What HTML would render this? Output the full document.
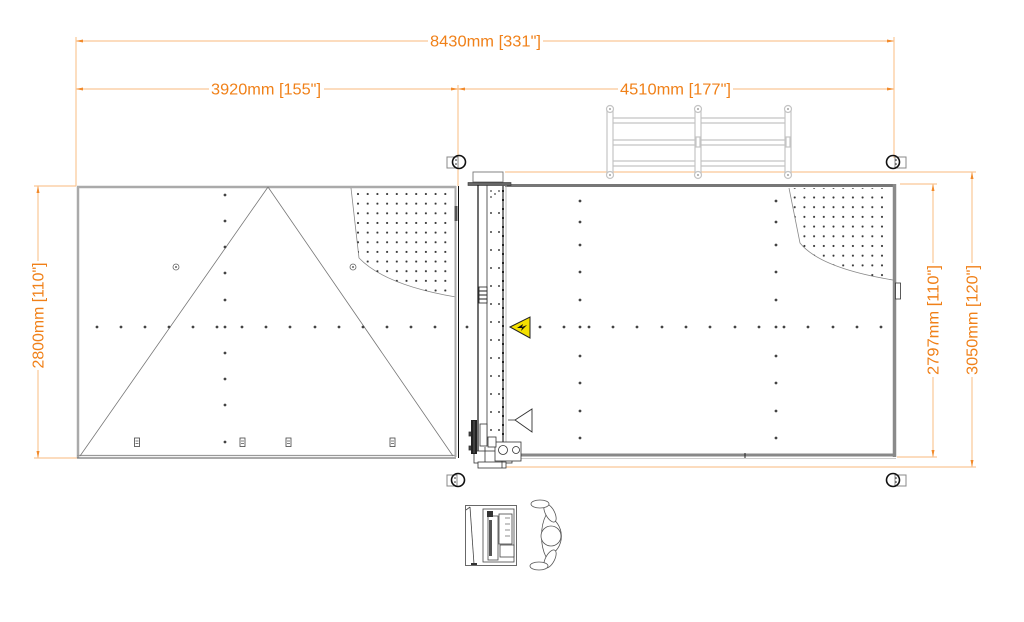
<!DOCTYPE html>
<html><head><meta charset="utf-8"><style>
html,body{margin:0;padding:0;background:#fff;}
svg{display:block;}
text{font-family:"Liberation Sans",sans-serif;}
</style></head><body>
<svg width="1024" height="622" viewBox="0 0 1024 622" xmlns="http://www.w3.org/2000/svg">
<defs>
  <pattern id="dotsL" x="353.15" y="189.2" width="9.7" height="9.65" patternUnits="userSpaceOnUse">
    <circle cx="4.85" cy="4.8" r="1.05" fill="#333"/>
  </pattern>
  <pattern id="dotsR" x="789.85" y="192.65" width="9.7" height="9.7" patternUnits="userSpaceOnUse">
    <circle cx="4.85" cy="4.85" r="1.05" fill="#333"/>
  </pattern>
  <clipPath id="clipL"><path d="M351,188 L359,258 Q385,285 456,297 L450,297 L450,188 Z"/></clipPath>
  <clipPath id="clipR"><path d="M789,188 L800,243 Q820,268 893,280 L888,280 L888,188 Z"/></clipPath>
</defs>

<!-- ===== Dimension lines (orange) ===== -->
<g stroke="#fbc796" stroke-width="1.2" fill="none">
  <line x1="76" y1="41" x2="894" y2="41"/>
  <line x1="76" y1="37" x2="76" y2="186"/>
  <line x1="894" y1="37" x2="894" y2="158"/>
  <line x1="76" y1="89" x2="894" y2="89"/>
  <line x1="458" y1="85" x2="458" y2="186"/>
  <line x1="38" y1="186" x2="38" y2="458"/>
  <line x1="34" y1="186" x2="76" y2="186"/>
  <line x1="34" y1="458" x2="77" y2="458"/>
  <line x1="933" y1="184" x2="933" y2="457"/>
  <line x1="900" y1="184" x2="937" y2="184"/>
  <line x1="897" y1="457" x2="937" y2="457"/>
  <line x1="972" y1="172" x2="972" y2="467"/>
  <line x1="505" y1="172" x2="976" y2="172"/>
  <line x1="506" y1="467" x2="976" y2="467"/>
</g>
<g fill="#f28a2a">
  <polygon points="76,41 83,39.5 83,42.5"/>
  <polygon points="894,41 887,39.5 887,42.5"/>
  <polygon points="76,89 83,87.5 83,90.5"/>
  <polygon points="458,89 451,87.5 451,90.5"/>
  <polygon points="458,89 465,87.5 465,90.5"/>
  <polygon points="894,89 887,87.5 887,90.5"/>
  <polygon points="38,186 36.5,193 39.5,193"/>
  <polygon points="38,458 36.5,451 39.5,451"/>
  <polygon points="933,184 931.5,191 934.5,191"/>
  <polygon points="933,457 931.5,450 934.5,450"/>
  <polygon points="972,172 970.5,179 973.5,179"/>
  <polygon points="972,467 970.5,460 973.5,460"/>
</g>
<g fill="#f08018" font-size="16" text-anchor="middle">
  <rect x="428" y="32" width="115" height="18" fill="#fff"/>
  <text x="485.5" y="46.5" textLength="111" lengthAdjust="spacingAndGlyphs">8430mm [331"]</text>
  <rect x="209" y="80" width="115" height="18" fill="#fff"/>
  <text x="266" y="94.5" textLength="110" lengthAdjust="spacingAndGlyphs">3920mm [155"]</text>
  <rect x="618" y="80" width="115" height="18" fill="#fff"/>
  <text x="675.5" y="94.5" textLength="111" lengthAdjust="spacingAndGlyphs">4510mm [177"]</text>

  <rect x="29" y="261" width="18" height="109" fill="#fff"/>
  <text transform="translate(43.5,315.5) rotate(-90)" x="0" y="0" textLength="106" lengthAdjust="spacingAndGlyphs">2800mm [110"]</text>
  <rect x="924" y="263" width="18" height="114" fill="#fff"/>
  <text transform="translate(938.5,320) rotate(-90)" x="0" y="0" textLength="110" lengthAdjust="spacingAndGlyphs">2797mm [110"]</text>
  <rect x="963" y="263" width="18" height="114" fill="#fff"/>
  <text transform="translate(977.5,320) rotate(-90)" x="0" y="0" textLength="110" lengthAdjust="spacingAndGlyphs">3050mm [120"]</text>
</g>

<!-- ===== Fence ===== -->
<g stroke="#c4c4c4" stroke-width="1.2" fill="#fff">
  <g fill="none">
    <line x1="613" y1="118" x2="786" y2="118"/>
    <line x1="613" y1="123" x2="786" y2="123"/>
    <line x1="613" y1="140" x2="786" y2="140"/>
    <line x1="613" y1="145" x2="786" y2="145"/>
    <line x1="613" y1="161" x2="786" y2="161"/>
    <line x1="613" y1="166" x2="786" y2="166"/>
  </g>
  <rect x="607" y="108" width="6" height="68"/>
  <rect x="695" y="108" width="6" height="68"/>
  <rect x="785" y="108" width="6" height="68"/>
  <rect x="696" y="137" width="4" height="10"/>
  <rect x="786" y="137" width="4" height="10"/>
  <circle cx="610" cy="109" r="3.5"/>
  <circle cx="698" cy="109" r="3.5"/>
  <circle cx="788" cy="109" r="3.5"/>
  <circle cx="610" cy="175" r="3.5"/>
  <circle cx="698" cy="175" r="3.5"/>
  <circle cx="788" cy="175" r="3.5"/>
</g>
<g fill="#888">
  <circle cx="610" cy="109" r="0.9"/><circle cx="698" cy="109" r="0.9"/><circle cx="788" cy="109" r="0.9"/>
  <circle cx="610" cy="175" r="0.9"/><circle cx="698" cy="175" r="0.9"/><circle cx="788" cy="175" r="0.9"/>
</g>

<!-- ===== Casters ===== -->
<g stroke-width="1">
  <rect x="447" y="157" width="11" height="11" fill="#fff" stroke="#888"/>
  <circle cx="459" cy="162" r="6.5" fill="none" stroke="#111" stroke-width="1.6"/>
  <rect x="895" y="157" width="11" height="11" fill="#fff" stroke="#888"/>
  <circle cx="893" cy="162" r="6.5" fill="none" stroke="#111" stroke-width="1.6"/>
  <rect x="447" y="475" width="10" height="11" fill="#fff" stroke="#888"/>
  <circle cx="458" cy="480" r="6.5" fill="none" stroke="#111" stroke-width="1.6"/>
  <rect x="895" y="475" width="11" height="11" fill="#fff" stroke="#888"/>
  <circle cx="893" cy="480" r="6.5" fill="none" stroke="#111" stroke-width="1.6"/>
</g>
<g fill="#222">
  <circle cx="456" cy="160" r="0.8"/><circle cx="456" cy="164" r="0.8"/>
  <circle cx="896" cy="160" r="0.8"/><circle cx="896" cy="164" r="0.8"/>
  <circle cx="455" cy="478" r="0.8"/><circle cx="455" cy="482" r="0.8"/>
  <circle cx="896" cy="478" r="0.8"/><circle cx="896" cy="482" r="0.8"/>
</g>

<!-- ===== Left table ===== -->
<g fill="none">
  <line x1="77" y1="187" x2="456" y2="187" stroke="#aaa" stroke-width="2.5"/>
  <line x1="78" y1="186" x2="78" y2="458" stroke="#aaa" stroke-width="2.5"/>
  <line x1="77" y1="455.5" x2="456" y2="455.5" stroke="#999" stroke-width="1.2"/>
  <line x1="77" y1="458" x2="456" y2="458" stroke="#777" stroke-width="1.2"/>
  <path d="M268,187 L80,456 M268,187 L453,456" stroke="#777" stroke-width="0.8"/>
  <path d="M351,188 L359,258 Q385,285 456,297" stroke="#888" stroke-width="0.8"/>
</g>
<rect x="350" y="188" width="106" height="110" fill="url(#dotsL)" clip-path="url(#clipL)"/>
<g fill="none" stroke="#666" stroke-width="0.8">
  <circle cx="176" cy="267" r="3"/><circle cx="353" cy="267" r="3"/>
</g>
<g fill="#666"><circle cx="176" cy="267" r="1"/><circle cx="353" cy="267" r="1"/></g>
<g fill="#444">
  <circle cx="225" cy="195" r="1.4"/><circle cx="225" cy="221" r="1.4"/><circle cx="225" cy="247" r="1.4"/>
  <circle cx="225" cy="273" r="1.4"/><circle cx="225" cy="300" r="1.4"/><circle cx="225" cy="353" r="1.4"/>
  <circle cx="225" cy="379" r="1.4"/><circle cx="225" cy="405" r="1.4"/><circle cx="225" cy="442" r="1.4"/>
  <circle cx="97" cy="327" r="1.4"/><circle cx="121" cy="327" r="1.4"/><circle cx="145" cy="327" r="1.4"/>
  <circle cx="169" cy="327" r="1.4"/><circle cx="193" cy="327" r="1.4"/><circle cx="217" cy="327" r="1.4"/>
  <circle cx="242" cy="327" r="1.4"/><circle cx="266" cy="327" r="1.4"/><circle cx="290" cy="327" r="1.4"/>
  <circle cx="315" cy="327" r="1.4"/><circle cx="339" cy="327" r="1.4"/><circle cx="363" cy="327" r="1.4"/>
  <circle cx="387" cy="327" r="1.4"/><circle cx="411" cy="327" r="1.4"/><circle cx="435" cy="327" r="1.4"/>
  <circle cx="225" cy="327" r="1.4"/><circle cx="467" cy="327" r="1.4"/>
</g>
<g fill="#fff" stroke="#444" stroke-width="0.8">
  <rect x="134.5" y="438" width="5" height="8.5"/>
  <rect x="240" y="438" width="5" height="8.5"/>
  <rect x="286" y="438" width="5" height="8.5"/>
  <rect x="390" y="438" width="5" height="8.5"/>
</g>
<g stroke="#444" stroke-width="0.7">
  <line x1="135.5" y1="441" x2="138.5" y2="441"/><line x1="135.5" y1="443.5" x2="138.5" y2="443.5"/>
  <line x1="241" y1="441" x2="244" y2="441"/><line x1="241" y1="443.5" x2="244" y2="443.5"/>
  <line x1="287" y1="441" x2="290" y2="441"/><line x1="287" y1="443.5" x2="290" y2="443.5"/>
  <line x1="391" y1="441" x2="394" y2="441"/><line x1="391" y1="443.5" x2="394" y2="443.5"/>
</g>

<!-- ===== Right table ===== -->
<g fill="none">
  <line x1="505" y1="185.5" x2="896" y2="185.5" stroke="#777" stroke-width="3"/>
  <line x1="894.5" y1="184" x2="894.5" y2="457" stroke="#8a8a8a" stroke-width="3.5"/>
  <line x1="516" y1="455" x2="896" y2="455" stroke="#888" stroke-width="3"/>
  <line x1="516" y1="458.5" x2="896" y2="458.5" stroke="#bbb" stroke-width="0.8"/>
  <path d="M789,188 L800,243 Q820,268 893,280" stroke="#888" stroke-width="0.8"/>
  <rect x="895.5" y="283" width="5" height="16" stroke="#333" stroke-width="0.8" fill="#fff"/>
</g>
<rect x="789" y="188" width="105" height="95" fill="url(#dotsR)" clip-path="url(#clipR)"/>
<line x1="745" y1="453" x2="745" y2="458" stroke="#222" stroke-width="1"/>
<g fill="#444">
  <circle cx="580" cy="201" r="1.4"/><circle cx="580" cy="222" r="1.4"/><circle cx="580" cy="245" r="1.4"/>
  <circle cx="580" cy="272" r="1.4"/><circle cx="580" cy="300" r="1.4"/><circle cx="580" cy="356" r="1.4"/>
  <circle cx="580" cy="383" r="1.4"/><circle cx="580" cy="411" r="1.4"/><circle cx="580" cy="438" r="1.4"/>
  <circle cx="776" cy="201" r="1.4"/><circle cx="776" cy="222" r="1.4"/><circle cx="776" cy="245" r="1.4"/>
  <circle cx="776" cy="272" r="1.4"/><circle cx="776" cy="300" r="1.4"/><circle cx="776" cy="356" r="1.4"/>
  <circle cx="776" cy="383" r="1.4"/><circle cx="776" cy="411" r="1.4"/><circle cx="776" cy="438" r="1.4"/>
  <circle cx="540" cy="327" r="1.4"/><circle cx="564" cy="327" r="1.4"/><circle cx="589" cy="327" r="1.4"/>
  <circle cx="613" cy="327" r="1.4"/><circle cx="637" cy="327" r="1.4"/><circle cx="662" cy="327" r="1.4"/>
  <circle cx="686" cy="327" r="1.4"/><circle cx="710" cy="327" r="1.4"/><circle cx="735" cy="327" r="1.4"/>
  <circle cx="759" cy="327" r="1.4"/><circle cx="784" cy="327" r="1.4"/><circle cx="808" cy="327" r="1.4"/>
  <circle cx="833" cy="327" r="1.4"/><circle cx="857" cy="327" r="1.4"/><circle cx="881" cy="327" r="1.4"/>
  <circle cx="580" cy="327" r="1.4"/><circle cx="776" cy="327" r="1.4"/>
</g>

<!-- ===== Gantry ===== -->
<g fill="none">
  <line x1="455.5" y1="186" x2="455.5" y2="457" stroke="#aaa" stroke-width="2"/>
  <line x1="458.5" y1="186" x2="458.5" y2="458" stroke="#111" stroke-width="1"/>
  <rect x="454.5" y="206" width="3" height="15" fill="#555" stroke="none"/>
  <rect x="473" y="172" width="30" height="10" fill="#fff" stroke="#777" stroke-width="0.9"/>
  <rect x="468" y="182.5" width="43" height="3" fill="#666" stroke="#333" stroke-width="0.6"/>
  <line x1="478" y1="185" x2="478" y2="455" stroke="#111" stroke-width="1.2"/>
  <line x1="487" y1="185" x2="487" y2="440" stroke="#333" stroke-width="0.8"/>
  <line x1="503" y1="185" x2="503" y2="443" stroke="#555" stroke-width="1.5"/>
  <line x1="503" y1="190" x2="503" y2="443" stroke="#111" stroke-width="1.8" stroke-dasharray="2,7"/>
  <line x1="506" y1="185" x2="506" y2="443" stroke="#aaa" stroke-width="0.8"/>
  <rect x="479" y="287" width="8" height="16" fill="#fff" stroke="#222" stroke-width="0.8"/>
  <line x1="479" y1="291" x2="487" y2="291" stroke="#222" stroke-width="1"/>
  <line x1="479" y1="295" x2="487" y2="295" stroke="#222" stroke-width="1"/>
  <line x1="479" y1="299" x2="487" y2="299" stroke="#222" stroke-width="1"/>
</g>
<g fill="#444">
  <circle cx="491" cy="191" r="0.9"/><circle cx="495" cy="194" r="0.9"/><circle cx="491" cy="197" r="0.9"/><circle cx="499" cy="191" r="0.9"/>
  <circle cx="491" cy="213" r="1"/><circle cx="499" cy="213" r="1"/>
  <circle cx="491" cy="232" r="1"/><circle cx="499" cy="232" r="1"/>
  <circle cx="491" cy="250" r="1"/><circle cx="499" cy="250" r="1"/>
  <circle cx="491" cy="268" r="1"/><circle cx="499" cy="268" r="1"/>
  <circle cx="491" cy="286" r="1"/><circle cx="499" cy="286" r="1"/>
  <circle cx="491" cy="304" r="1"/><circle cx="499" cy="304" r="1"/>
  <circle cx="491" cy="322" r="1"/><circle cx="499" cy="322" r="1"/>
  <circle cx="491" cy="340" r="1"/><circle cx="499" cy="340" r="1"/>
  <circle cx="491" cy="358" r="1"/><circle cx="499" cy="358" r="1"/>
  <circle cx="491" cy="376" r="1"/><circle cx="499" cy="376" r="1"/>
  <circle cx="491" cy="394" r="1"/><circle cx="499" cy="394" r="1"/>
  <circle cx="491" cy="412" r="1"/><circle cx="499" cy="412" r="1"/>
  <circle cx="491" cy="430" r="1"/><circle cx="499" cy="430" r="1"/>
</g>
<g stroke="#333" stroke-width="0.8" fill="#fff">
  <rect x="474" y="451" width="38" height="12"/>
  <rect x="478" y="462" width="28" height="6"/>
  <rect x="480" y="424" width="7" height="22"/>
  <rect x="469" y="432" width="3" height="4" fill="#444"/>
  <rect x="469" y="446" width="3" height="4" fill="#444"/>
  <rect x="495" y="442" width="26" height="19"/>
  <circle cx="503" cy="450" r="4.5"/>
  <circle cx="516" cy="450" r="3.5"/>
  <rect x="488" y="437" width="8" height="10"/>
</g>
<rect x="471" y="420" width="6" height="34" fill="#222"/>
<line x1="474" y1="421" x2="474" y2="453" stroke="#888" stroke-width="0.6"/>
<line x1="485" y1="447" x2="485" y2="462" stroke="#333" stroke-width="0.8"/>
<line x1="502" y1="461" x2="502" y2="468" stroke="#333" stroke-width="0.8"/>

<polygon points="510,327 530,317 530,338" fill="#f4e000" stroke="#222" stroke-width="1"/>
<path d="M517,328 L523,324 L522,327 L527,325 L521,331 L522,328 Z" fill="#111"/>
<line x1="508" y1="420" x2="515" y2="420" stroke="#333" stroke-width="0.8"/>
<polygon points="515,420 532,409 532,432" fill="#fff" stroke="#333" stroke-width="0.9"/>

<!-- ===== Controller ===== -->
<g fill="#fff" stroke="#444" stroke-width="0.8">
  <rect x="465.5" y="505.5" width="51" height="60"/>
  <rect x="483" y="509" width="31" height="53"/>
  <rect x="488" y="516" width="10" height="44"/>
  <rect x="499" y="514" width="13" height="30"/>
  <rect x="500" y="545" width="14" height="12"/>
</g>
<line x1="470" y1="507" x2="474" y2="564" stroke="#444" stroke-width="0.8"/>
<line x1="466" y1="510" x2="470" y2="507" stroke="#444" stroke-width="0.8"/>
<rect x="487" y="511" width="6" height="6" fill="#333"/>
<rect x="489" y="520" width="3" height="36" fill="#555"/>
<rect x="471" y="563" width="6" height="2" fill="#333"/>
<g stroke="#444" stroke-width="0.6">
  <line x1="505" y1="518" x2="510" y2="518"/><line x1="505" y1="524" x2="510" y2="524"/>
  <line x1="505" y1="530" x2="510" y2="530"/><line x1="505" y1="536" x2="510" y2="536"/>
</g>

<!-- ===== Operator ===== -->
<g fill="#fff" stroke="#555" stroke-width="0.8">
  <path d="M546,515 C566,522 567,550 546,557 C540,545 540,527 546,515 Z"/>
  <ellipse cx="550" cy="513" rx="4.5" ry="10" transform="rotate(-28 550 513)"/>
  <ellipse cx="550" cy="559" rx="4.5" ry="10" transform="rotate(28 550 559)"/>
  <ellipse cx="540" cy="504" rx="9" ry="4"/>
  <ellipse cx="539" cy="566" rx="9" ry="4"/>
  <circle cx="551" cy="536" r="10"/>
</g>
</svg>
</body></html>
